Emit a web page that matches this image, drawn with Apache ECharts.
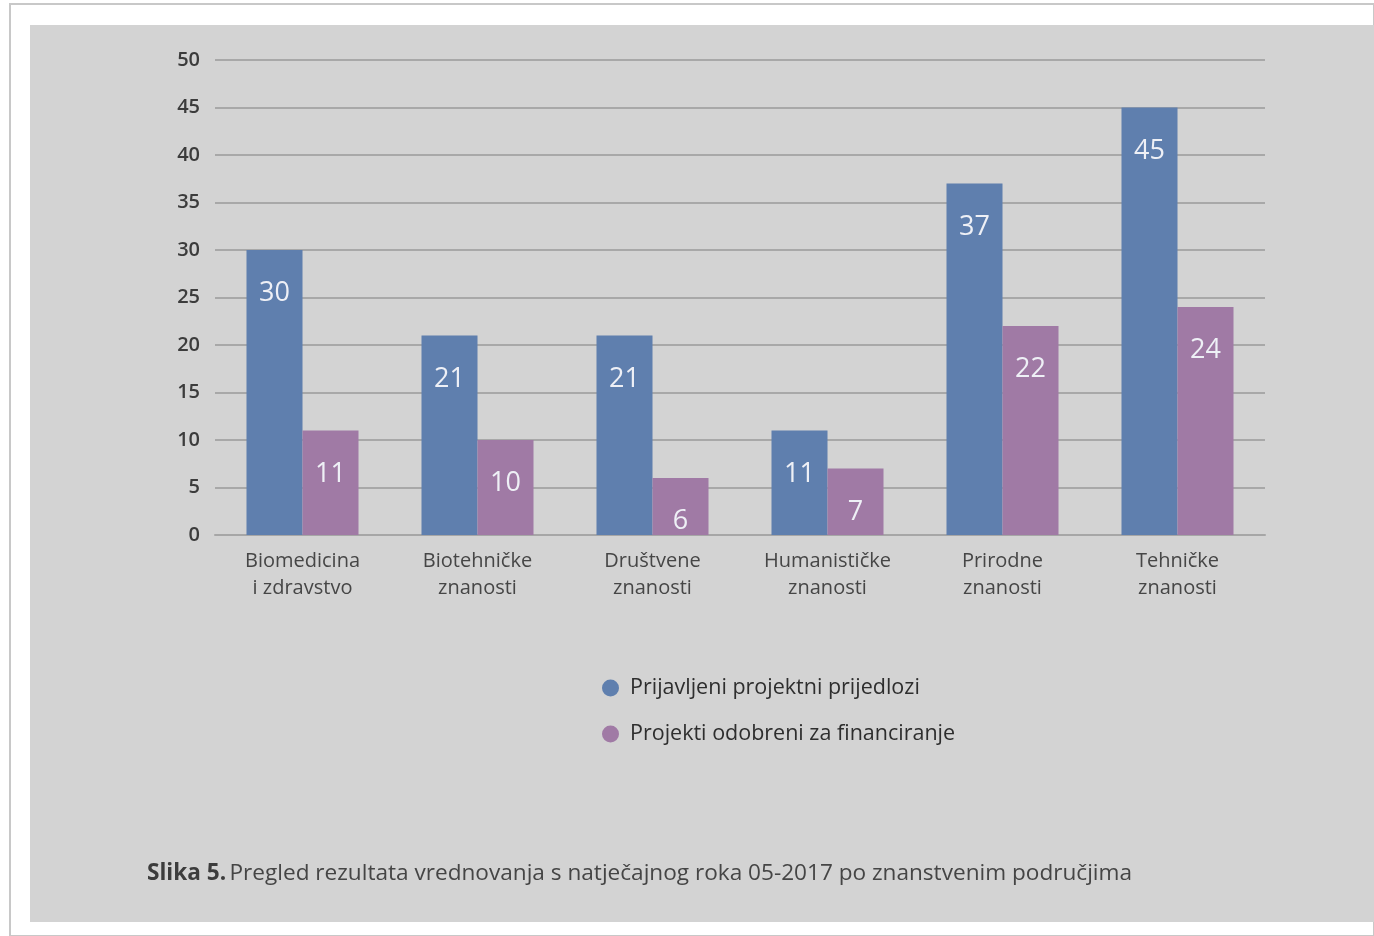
<!DOCTYPE html>
<html><head><meta charset="utf-8">
<script src="https://cdn.jsdelivr.net/npm/echarts@6/dist/echarts.min.js"></script>
<style>html,body{margin:0;padding:0;background:#fff;}#c{width:1374px;height:936px;}</style>
</head><body><div id="c"></div>
<script>
const categories = ['Biomedicina\ni zdravstvo', 'Biotehničke\nznanosti', 'Društvene\nznanosti', 'Humanističke\nznanosti', 'Prirodne\nznanosti', 'Tehničke\nznanosti'];
const seriesNames = ['Prijavljeni projektni prijedlozi', 'Projekti odobreni za financiranje'];
const submitted = [30, 21, 21, 11, 37, 45];
const approved = [11, 10, 6, 7, 22, 24];
const yTicks = [0, 5, 10, 15, 20, 25, 30, 35, 40, 45, 50];

const FONT = '"Open Sans", "Noto Sans", sans-serif';
const chart = echarts.init(document.getElementById('c'), null, {renderer: 'canvas'});
const labelStyle = {show: true, position: 'insideTop', distance: 30, color: '#eef0f6', fontSize: 27, fontFamily: FONT};
chart.setOption({
  backgroundColor: '#ffffff',
  animation: false,
  graphic: [
    {type: 'rect', shape: {x: 10, y: 4, width: 1364, height: 932}, style: {fill: '#ffffff', stroke: '#c8c8c8', lineWidth: 2}, z: -10, silent: true},
    {type: 'rect', shape: {x: 30, y: 25, width: 1344, height: 897}, style: {fill: '#d3d3d3'}, z: -9, silent: true},
    {type: 'text', left: 147, top: 862, style: {rich: {b: {fontWeight: 'bold', fontSize: 22.6, fill: '#3c3c3c', fontFamily: FONT}, n: {fontSize: 22.6, fill: '#454545', fontFamily: FONT}}, text: '{b|Slika 5.} {n|Pregled rezultata vrednovanja s natječajnog roka 05-2017 po znanstvenim područjima}'}, z: 10}
  ],
  grid: {left: 215, right: 109, top: 60, bottom: 401, containLabel: false},
  legend: {
    orient: 'vertical', left: 597, top: 672, itemGap: 24,
    icon: 'circle', itemWidth: 17, itemHeight: 17,
    textStyle: {fontSize: 21.5, color: '#2e2e2e', fontFamily: FONT, padding: [0, 0, 0, 6]},
    data: seriesNames
  },
  xAxis: {
    type: 'category', data: categories,
    axisLine: {show: true, lineStyle: {color: '#a6a6a6', width: 2}},
    axisTick: {show: false},
    axisLabel: {fontSize: 20, color: '#464646', fontFamily: FONT, lineHeight: 27, margin: 13}
  },
  yAxis: {
    type: 'value', min: yTicks[0], max: yTicks[yTicks.length - 1], interval: yTicks[1] - yTicks[0],
    axisLine: {show: false}, axisTick: {show: false},
    axisLabel: {fontSize: 20, color: '#3c3c3c', fontFamily: FONT, margin: 15, fontWeight: 600},
    splitLine: {lineStyle: {color: '#a8a8a8', width: 2}}
  },
  series: [
    {name: seriesNames[0], type: 'bar', data: submitted, barGap: '0%', barCategoryGap: '36%',
     itemStyle: {color: '#5f7fae'}, label: labelStyle},
    {name: seriesNames[1], type: 'bar', data: approved,
     itemStyle: {color: '#a07aa5'}, label: labelStyle}
  ]
});
</script></body></html>
